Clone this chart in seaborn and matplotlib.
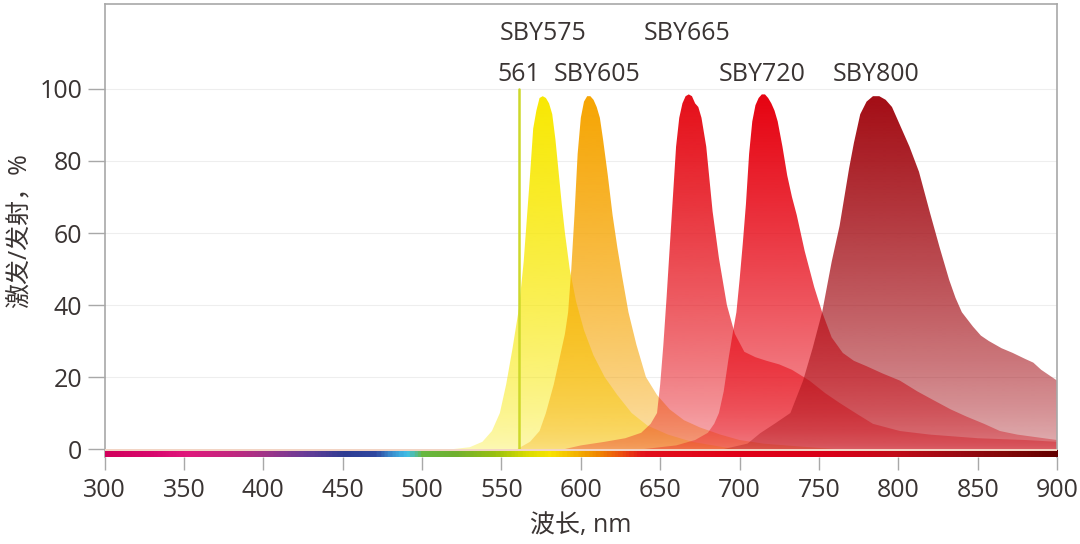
import numpy as np
import matplotlib
matplotlib.use("Agg")
import matplotlib.pyplot as plt
from matplotlib.colors import LinearSegmentedColormap, to_rgb
import seaborn as sns

# Emission spectra (wavelength nm, relative intensity %)
sby575_nm = [520, 530, 538, 544, 549, 553, 557, 561, 564, 566, 568, 570, 572, 574, 576, 578, 580, 582,
             584, 586, 588, 590, 593, 597, 602, 608, 615, 623, 632, 642, 655, 670, 690, 700]
sby575_val = [0, 0.5, 2, 5, 10, 18, 28, 39, 52, 64, 76, 89, 94, 97.5, 98, 97.5, 96, 93,
              86, 77, 68, 60, 50, 41, 33, 26, 20, 15, 10, 6.5, 4, 2, 0.5, 0]

sby605_nm = [560, 568, 574, 578, 583, 587, 590, 592, 594, 596, 598, 600, 602, 604, 606, 608, 610, 612,
             614, 617, 620, 623, 626, 630, 635, 641, 648, 656, 665, 675, 688, 700, 715, 735, 760]
sby605_val = [0, 2, 5, 10, 18, 26, 32, 38, 50, 65, 82, 92, 96.5, 98, 98, 97, 95, 92,
              86, 76, 65, 56, 48, 38, 29, 20, 15, 11, 8, 6, 4, 2.5, 1.5, 0.8, 0]

sby665_nm = [590, 600, 615, 628, 638, 644, 648, 650, 652, 654, 656, 658, 660, 662, 664, 666, 668, 670,
             672, 674, 676, 679, 683, 687, 692, 697, 703, 710, 717, 725, 733, 744, 754, 763, 773, 784,
             801, 820, 850, 880, 900]
sby665_val = [0, 1, 2, 3, 4.5, 7, 10, 18, 29, 42, 56, 70, 84, 92, 96, 98, 98.5, 98,
              96, 95, 92, 84, 66, 53, 40, 32, 27, 25.5, 24.5, 23.5, 22, 19, 15.5, 12.8, 10, 7,
              5, 4, 3, 2.5, 2]

sby720_nm = [640, 660, 672, 680, 684, 687, 690, 693, 696, 698, 700, 702, 704, 706, 708, 710, 712, 714,
             716, 718, 720, 722, 724, 727, 730, 733, 736, 741, 747, 752, 758, 765, 772, 780, 790, 801,
             812, 822, 833, 843, 854, 864, 875, 885, 900]
sby720_val = [0, 1, 2.5, 4.5, 7, 10, 16, 25, 33, 38, 47, 57, 68, 82, 91, 95.5, 97.5, 98.5,
              98.5, 97.5, 96, 94, 91, 84, 76, 70, 65, 55, 45, 38, 31, 26.7, 24.5, 23, 21, 19,
              16, 13.6, 11, 9, 7, 5, 4, 3.4, 2.5]

sby800_nm = [690, 705, 713, 722, 732, 740, 746, 752, 758, 763, 766, 769, 772, 776, 780, 784, 788, 792,
             796, 799, 803, 807, 813, 820, 826, 832, 836, 840, 847, 852, 857, 865, 872, 880, 885, 890,
             895, 900]
sby800_val = [0, 1.5, 4.4, 7, 10, 19, 28, 38, 52, 62, 70, 78, 85, 93, 96.5, 98, 98, 97,
              95, 92, 88, 84, 77, 65.5, 56, 47, 42, 38, 34, 31.5, 30, 28, 26.7, 25, 24, 22,
              20.5, 19]

dye_names = ['SBY575', 'SBY605', 'SBY665', 'SBY720', 'SBY800']
dye_colors = ['#f8e800', '#f6a400', '#e50c16', '#e6000e', '#a20a12']
spectra = [(sby575_nm, sby575_val), (sby605_nm, sby605_val), (sby665_nm, sby665_val),
           (sby720_nm, sby720_val), (sby800_nm, sby800_val)]

# label positions (nm, %)
label_x = [576, 610, 667, 714, 786]
label_y = [115.5, 104, 115.5, 104, 104]

laser_nm = 561

# spectrum bar along the x axis
rainbow_nm = [300, 330, 350, 380, 400, 425, 450, 470, 480, 490, 500, 520, 545, 565, 580, 595,
              610, 625, 640, 700, 760, 800, 840, 870, 900]
rainbow_colors = ['#d2005c', '#d8086e', '#e0187c', '#c02880', '#a03488', '#6a3c98', '#2e3c92',
                  '#3048a0', '#3c90d0', '#40c0e8', '#68b840', '#70b030', '#98c010', '#d8dc00',
                  '#f8e400', '#f4b800', '#f08800', '#ec5010', '#e2101c', '#e00018', '#d80018',
                  '#c00c18', '#980a12', '#800808', '#640000']

sns.set_style("white")
plt.rcParams['font.family'] = ['Open Sans', 'Noto Sans CJK SC', 'DejaVu Sans']
text_color = '#3a3433'
grey = '#a8a8a8'
fs = 18

fig = plt.figure(figsize=(10.8, 5.44), dpi=100)
ax = fig.add_axes([0.0968, 0.1599, 0.882, 0.8327])

xmin, xmax = 300, 900
ymin, ymax = -2.22, 123.6

# faint horizontal grid
for yv in [20, 40, 60, 80, 100]:
    ax.axhline(yv, color='#eeeeee', lw=0.8, zorder=0)

# gradient filled spectra
h = np.linspace(0, 1, 256)
alpha = 0.3 + 0.7 * h ** 0.7
for (nm, val), col in zip(spectra, dye_colors):
    poly = ax.fill_between(nm, val, 0, facecolor='none', edgecolor='none')
    rgba = np.zeros((256, 1, 4))
    rgba[:, 0, :3] = to_rgb(col)
    rgba[:, 0, 3] = alpha
    im = ax.imshow(rgba, extent=[xmin, xmax, 0, 100], origin='lower', aspect='auto',
                   interpolation='bilinear', zorder=2)
    im.set_clip_path(poly.get_paths()[0], transform=ax.transData)

# laser line
sns.lineplot(x=[laser_nm, laser_nm], y=[0, 100], color='#cdd82a', lw=1.8, ax=ax,
             estimator=None, zorder=3)

# spectrum bar
pos = [(v - xmin) / (xmax - xmin) for v in rainbow_nm]
cmap = LinearSegmentedColormap.from_list('spec', list(zip(pos, rainbow_colors)))
ax.imshow(np.linspace(0, 1, 600)[None, :], cmap=cmap, extent=[xmin, xmax, ymin, -0.55],
          aspect='auto', zorder=4)
ax.axhspan(-0.5, 0.1, color='#f2d4c4', lw=0, zorder=4)

# labels
for name, lx, ly in zip(dye_names, label_x, label_y):
    ax.text(lx, ly, name, ha='center', va='center', fontsize=fs, color=text_color)
ax.text(laser_nm, 104, str(laser_nm), ha='center', va='center', fontsize=fs, color=text_color)

ax.set_xlim(xmin, xmax)
ax.set_ylim(ymin, ymax)
ax.set_xticks(range(300, 901, 50))
ax.set_yticks(range(0, 101, 20))
ax.tick_params(axis='x', length=9, width=1, color=grey, labelsize=fs, labelcolor=text_color, pad=6)
ax.tick_params(axis='y', length=12, width=1, color=grey, labelsize=fs, labelcolor=text_color, pad=4)
ax.tick_params(bottom=True, left=True)
for side in ['left', 'top', 'right']:
    ax.spines[side].set_color(grey)
    ax.spines[side].set_linewidth(1.2)
ax.spines['bottom'].set_visible(False)

ax.set_xlabel('波长, nm', fontsize=fs, color=text_color, labelpad=7)
ax.set_ylabel('激发/发射，%', fontsize=fs, color=text_color, labelpad=5)

fig.savefig('out.png', dpi=100)
